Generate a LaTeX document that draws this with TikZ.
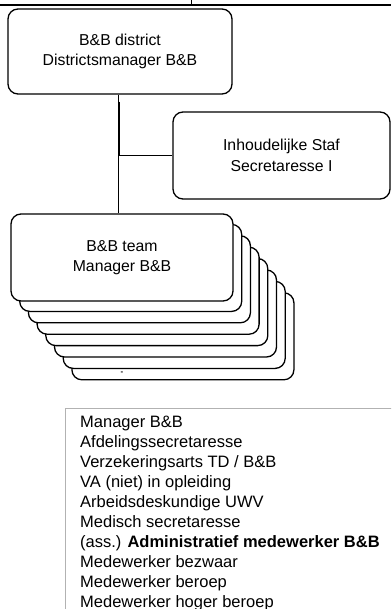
\documentclass[tikz,border=0pt]{standalone}
\usepackage{fontspec}
\setmainfont{Liberation Sans}
\tikzset{
  unitbox/.style={draw, line width=1.3pt, rounded corners=10pt, fill=white,
    minimum width=222pt, minimum height=87pt, align=center, inner sep=0pt,
    font=\fontsize{15.8}{20.5}\selectfont},
}
\begin{document}
\begin{tikzpicture}[x=1pt,y=-1pt]
\useasboundingbox (0,0) rectangle (391,609);
\clip (0,0) rectangle (391,609);

%draw the edge of the table above
\coordinate (tl) at (0,5);
\coordinate (tr) at (391,5);
\draw [line width=1.5pt] (tl) -- (tr);
\draw [line width=1pt] (191,0) coordinate(tick) -- (tick |- tl);

%district and staff
\node [unitbox, minimum width=224pt, minimum height=85pt] (district) at (120,51.5) {B\&B district\\Districtsmanager B\&B};
\node [unitbox, minimum width=217pt] (staf) at (281.5,155.5) {Inhoudelijke Staf\\Secretaresse I};

%stack of teams, back to front
\foreach \i in {7,...,1}
  \node [unitbox] (team\i) at (122+8.7*\i,256.5+11.4*\i) {};
\node [font=\bfseries\footnotesize] (dash) at (122,373) {-};
\node [unitbox] (team) at (122,257.5) {B\&B team\\Manager B\&B};

%connectors
\coordinate (top) at ([xshift=-2pt]district.south);
\coordinate (split) at (top |- staf.west);
\draw [line width=1pt] (top) -- (top |- team.north);
\draw [line width=1pt] (split) -- (staf.west);
\draw [line width=2.5pt] ([xshift=1pt,yshift=-7pt]top) -- ([xshift=1pt]split);

%list of roles
\draw [gray!60, line width=1pt] (65,408) rectangle (420,640);
\node [anchor=north west, inner sep=0pt, align=left, font=\fontsize{16.5}{20}\selectfont] (roles) at (80,415.5)
  {Manager B\&B\\
   Afdelingssecretaresse\\
   Verzekeringsarts TD / B\&B\\
   VA (niet) in opleiding\\
   Arbeidsdeskundige UWV\\
   Medisch secretaresse\\
   (ass.) \textbf{Administratief medewerker B\&B}\\
   Medewerker bezwaar\\
   Medewerker beroep\\
   Medewerker hoger beroep};

\end{tikzpicture}
\end{document}
